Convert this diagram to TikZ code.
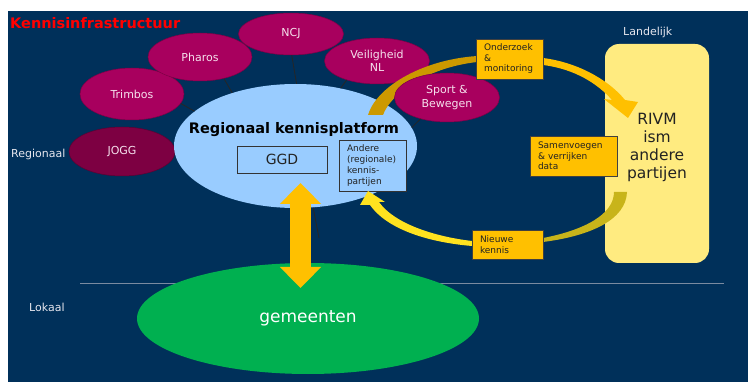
\documentclass[tikz,border=0pt]{standalone}
\usepackage{fontspec}
\setmainfont{DejaVu Sans}
\usetikzlibrary{shapes.geometric,arrows.meta}
\definecolor{bgc}{HTML}{00305A}
\definecolor{pinkc}{HTML}{A8005E}
\definecolor{joggc}{HTML}{7D0042}
\definecolor{pinktext}{HTML}{F5E0EC}
\definecolor{platc}{HTML}{99CCFF}
\definecolor{greenc}{HTML}{00B050}
\definecolor{orangec}{HTML}{FFC000}
\definecolor{goldc}{HTML}{CC9900}
\definecolor{olivec}{HTML}{C8B41A}
\definecolor{brightyc}{HTML}{FFE21F}
\definecolor{lyellow}{HTML}{FFEB80}
\definecolor{linec}{HTML}{7A8AA0}
\definecolor{labelc}{HTML}{E6E6EE}
\definecolor{darktext}{HTML}{222222}
\begin{document}
\begin{tikzpicture}[x=1pt,y=-1pt,
  pinkell/.style={ellipse, fill=pinkc, draw=pinkc!75!black, line width=0.5pt, inner sep=0pt, text=pinktext,
    font=\fontsize{11}{13.5}\selectfont, align=center},
  obox/.style={draw=black!75, fill=orangec, line width=0.8pt, inner xsep=8pt, inner ysep=0pt,
    font=\fontsize{9}{10.5}\selectfont, align=left, text=darktext},
  conn/.style={draw=black!85, line width=0.8pt},
  lbl/.style={text=labelc, font=\fontsize{11}{13}\selectfont, inner sep=0pt},
  dbl/.style={draw=orangec, line width=21pt,
    {Triangle[length=21pt,width=40pt]}-{Triangle[length=21pt,width=40pt]}}
]
\useasboundingbox (0,0) rectangle (748,385);
\fill[white] (0,0) rectangle (748,385);
\fill[bgc] (8,11) rectangle (748,382);

% level separator
\coordinate (hl1) at (80,284);
\coordinate (hl2) at (724,284);
\draw[linec, line width=1pt] (hl1) -- (hl2);

% title and level labels
\node[anchor=base west, inner sep=0pt, text=red, font=\bfseries\fontsize{14.5}{16}\selectfont] (title) at (10,29) {Kennisinfrastructuur};
\node[lbl, anchor=base west] (lregio) at (11,158) {Regionaal};
\node[lbl, anchor=base west] (llokaal) at (29,312) {Lokaal};
\node[lbl, anchor=base west] (lland) at (623,36) {Landelijk};

% partner ellipses
\node[pinkell, minimum width=104pt, minimum height=52pt] (trimbos) at (132,94) {Trimbos};
\node[pinkell, minimum width=104pt, minimum height=48pt] (pharos) at (200,57) {Pharos};
\node[pinkell, minimum width=105pt, minimum height=42pt] (ncj) at (291,34) {NCJ};
\node[pinkell, minimum width=105pt, minimum height=46pt] (veil) at (377,61) {Veiligheid\\NL};
\node[pinkell, fill=joggc, draw=joggc!75!black, minimum width=106pt, minimum height=49pt] (jogg) at (122,151.5) {JOGG};

% regional platform
\node[ellipse, fill=platc, inner sep=0pt, minimum width=243pt, minimum height=124pt] (plat) at (295.5,146) {};
\node[anchor=base, inner sep=0pt, font=\bfseries\fontsize{14.5}{16}\selectfont, text=black] (plattitle) at (294,134) {Regionaal kennisplatform};
\node[draw=black!80, fill=platc, line width=0.8pt, minimum width=90pt, minimum height=27pt, inner sep=0pt,
  font=\fontsize{14}{16}\selectfont, text=darktext] (ggd) at (282,159.5) {GGD};
\node[draw=black!80, fill=platc, line width=0.8pt, inner xsep=8pt, inner ysep=0pt, text width=51pt, minimum height=51pt,
  align=left, font=\fontsize{9}{11}\selectfont, text=darktext] (andere) at (372.5,165.5) {Andere\\(regionale)\\kennis-\\partijen};

% connectors partners -> platform
\draw[conn] (trimbos.-11) -- (plat.161);
\draw[conn] (pharos.-42) -- (plat.140);
\draw[conn] (ncj.-88) -- (plat.89);
\draw[conn] (veil.-148) -- (plat.52);
\coordinate (lend) at (319,238);
\draw[conn] (plat.-74) -- (lend);

% top curved arrow, left part
\fill[goldc] (368,115) .. controls (376,88) and (420,60) .. (477,56) -- (477,62)
  .. controls (425,68) and (390,95) .. (383,115) -- cycle;

% sport ellipse (in front of arrow)
\node[pinkell, minimum width=105pt, minimum height=49pt] (sport) at (447,97.5) {Sport \&\\Bewegen};
\draw[conn] (sport.-141) -- (plat.9);

% national box
\node[fill=lyellow, rounded corners=14pt, minimum width=104pt, minimum height=219pt, inner sep=0pt] (rivm) at (657,153.5) {};
\node[align=center, inner sep=0pt, font=\fontsize{15.5}{18}\selectfont, text=darktext] (rivmtxt) at (657,147) {RIVM\\ism\\andere\\partijen};

% top curved arrow, right part with head
\fill[orangec] (543,58) .. controls (575,62) and (607,78) .. (625,100) -- (638,102) -- (628,118)
  -- (604,99) -- (612,100) .. controls (598,84) and (575,69) .. (543,65) -- cycle;

% bottom curved arrow, right part
\fill[olivec] (627,192) .. controls (626,220) and (590,236) .. (543,242) -- (543,238)
  .. controls (585,230) and (614,214) .. (614,192) -- cycle;
% bottom curved arrow, left part with head
\fill[brightyc] (472,246) .. controls (425,242) and (386,228) .. (370,205) -- (360,205) -- (368,191)
  -- (385,202) -- (379,202) .. controls (393,222) and (430,236) .. (472,241) -- cycle;

% step labels
\node[obox, text width=51pt, minimum height=40pt] (onder) at (509.5,59) {Onderzoek\\\&\\monitoring};
\node[obox, text width=71pt, minimum height=40pt] (samen) at (573.5,156) {Samenvoegen\\\& verrijken\\data};
\node[obox, text width=55pt, minimum height=29pt] (nieuw) at (507.5,244.5) {Nieuwe\\kennis};

% municipalities
\node[ellipse, fill=greenc, inner sep=0pt, minimum width=342pt, minimum height=111pt,
  text=white, font=\fontsize{17}{20}\selectfont] (gem) at (308,318.5) {gemeenten};

% double arrow platform <-> municipalities
\coordinate (dat) at (300.5,183);
\coordinate (dab) at (300.5,288);
\draw[dbl] (dat) -- (dab);
\end{tikzpicture}
\end{document}
